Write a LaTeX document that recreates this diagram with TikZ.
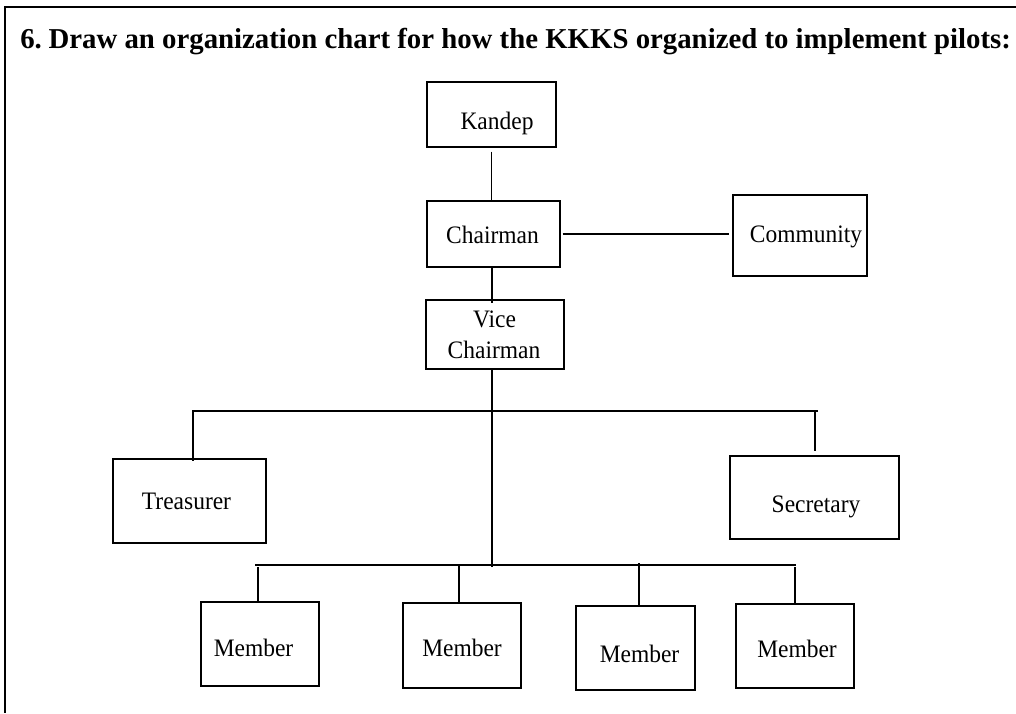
\documentclass[tikz,border=0pt]{standalone}
\usepackage{fontspec}
\setmainfont{Liberation Serif}
\usetikzlibrary{fit}
% box captions are set slightly taller than wide
\newcommand\boxtext[1]{\scalebox{1}[1.07]{#1}}
\begin{document}
\begin{tikzpicture}[x=0.75pt,y=-0.75pt,
  box/.style={draw,line width=1.1pt,inner sep=0pt},
  lbl/.style={anchor=base,inner sep=0pt,font=\fontsize{17.6}{21}\selectfont},
  link/.style={line width=1.2pt},
  frame/.style={line width=1.6pt}]
\useasboundingbox (0,0) rectangle (1016,713);

% page frame (top and left edges only)
\coordinate (fA) at (1016,7);
\coordinate (fB) at (5,7);
\coordinate (fC) at (5,713);
\draw[frame] (fA) -- (fB) -- (fC);

% heading
\node[anchor=base west,inner sep=0pt,font=\fontsize{21.6}{26}\selectfont\bfseries] (title) at (20,49)
  {6.\hspace{-0.1em} Draw an organization chart for how the KKKS organized to implement pilots:};

% boxes
\node[box,fit={(427,82) (556,147)}] (kandep) {};
\node[box,fit={(427,201) (560,267)}] (chair) {};
\node[box,fit={(733,195) (867,276)}] (comm) {};
\node[box,fit={(426,300) (564,369)}] (vice) {};
\node[box,fit={(113,459) (266,543)}] (treas) {};
\node[box,fit={(730,456) (899,539)}] (secr) {};
\node[box,fit={(201,602) (319,686)}] (m1) {};
\node[box,fit={(403,603) (521,688)}] (m2) {};
\node[box,fit={(576,606) (695,690)}] (m3) {};
\node[box,fit={(736,604) (854,688)}] (m4) {};

% captions
\node[lbl] (kandep-t) at (497,130) {\boxtext{Kandep}};
\node[lbl] (chair-t) at (492.5,243) {\boxtext{Chairman}};
\node[lbl] (comm-t) at (806,242) {\boxtext{Community}};
\node[lbl] (vice-t1) at (494.5,327) {\boxtext{Vice}};
\node[lbl] (vice-t2) at (494,358) {\boxtext{Chairman}};
\node[lbl] (treas-t) at (186.5,509) {\boxtext{Treasurer}};
\node[lbl] (secr-t) at (816,512) {\boxtext{Secretary}};
\node[lbl] (m1-t) at (253.5,656) {\boxtext{Member}};
\node[lbl] (m2-t) at (462,656) {\boxtext{Member}};
\node[lbl] (m3-t) at (639.5,662) {\boxtext{Member}};
\node[lbl] (m4-t) at (797,657) {\boxtext{Member}};

% upper chain
\coordinate (hub) at (492,411);
\draw[link] ([yshift=-3pt]kandep.south) -- (kandep.south |- chair.north);
\draw[link] ([xshift=1.5pt]chair.east) -- ([xshift=-2.25pt]chair.east -| comm.west);
\draw[link] (hub |- chair.south) -- ([yshift=-3pt]hub |- vice.north);

% bus bars
\coordinate (upL) at (192,411);
\coordinate (upR) at (818,411);
\coordinate (loL) at (255,565);
\coordinate (loR) at (796,565);
\draw[link] (hub |- vice.south) -- ([yshift=-1.5pt]hub |- loL);
\draw[link] (upL) -- (upR);
\draw[link] (loL) -- (loR);

% drops to the officers
\coordinate (dT) at (193,411);
\coordinate (dS) at (815,411);
\draw[link] (dT) -- ([yshift=-2.25pt]dT |- treas.north);
\draw[link] (dS) -- ([yshift=3pt]dS |- secr.north);

% drops to the members
\coordinate (d1) at (258,567);
\coordinate (d2) at (459,565);
\coordinate (d3) at (638.7,563);
\coordinate (d4) at (795,567);
\draw[link] (d1) -- (d1 |- m1.north);
\draw[link] (d2) -- (d2 |- m2.north);
\draw[link] (d3) -- (d3 |- m3.north);
\draw[link] (d4) -- (d4 |- m4.north);
\end{tikzpicture}
\end{document}
